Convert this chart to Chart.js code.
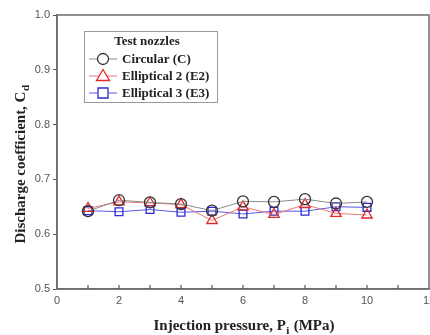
<!DOCTYPE html>
<html><head><meta charset="utf-8">
<script src="https://cdn.jsdelivr.net/npm/chart.js@4"></script>
<style>html,body{margin:0;padding:0;background:#fff}#w{width:430px;height:335px}</style>
</head><body><div id="w"><canvas id="c" width="430" height="335"></canvas></div>
<script>
const pressures = [1,2,3,4,5,6,7,8,9,10];
const circular  = [0.642,0.662,0.658,0.655,0.643,0.660,0.659,0.664,0.656,0.659];
const ellip2    = [0.647,0.659,0.657,0.654,0.625,0.650,0.636,0.654,0.638,0.635];
const ellip3    = [0.643,0.641,0.645,0.640,0.642,0.637,0.642,0.642,0.650,0.649];
const seriesNames = ['Circular (C)','Elliptical 2 (E2)','Elliptical 3 (E3)'];
const legendTitle = 'Test nozzles';
const xTitle = ['Injection pressure, P','i',' (MPa)'];
const yTitle = ['Discharge coefficient, C','d',''];

const toPts = arr => pressures.map((x,i)=>({x, y: arr[i]}));
const serif = '"Liberation Serif", "DejaVu Serif", serif';

const frame = {
  id:'frame',
  afterDraw(chart){
    const {ctx, chartArea:a, scales:{x}} = chart;
    ctx.save();
    ctx.strokeStyle = '#6e6e6e'; ctx.lineWidth = 1.5;
    ctx.strokeRect(a.left, a.top, a.right-a.left, a.bottom-a.top);
    // inward x ticks
    ctx.lineWidth = 1.2; ctx.strokeStyle='#555';
    for (let v=1; v<12; v++){
      const px = x.getPixelForValue(v);
      ctx.beginPath(); ctx.moveTo(px, a.bottom); ctx.lineTo(px, a.bottom-4); ctx.stroke();
    }
    // axis titles with subscripts
    ctx.fillStyle = '#222';
    const drawSub = (parts, size) => {
      ctx.font = 'bold '+size+'px '+serif;
      const w0 = ctx.measureText(parts[0]).width;
      ctx.font = 'bold '+Math.round(size*0.7)+'px '+serif;
      const w1 = ctx.measureText(parts[1]).width;
      ctx.font = 'bold '+size+'px '+serif;
      const w2 = ctx.measureText(parts[2]).width;
      const total = w0+w1+w2+1;
      let cx = -total/2;
      ctx.textBaseline='alphabetic'; ctx.textAlign='left';
      ctx.fillText(parts[0], cx, 0); cx += w0+0.5;
      ctx.font = 'bold '+Math.round(size*0.7)+'px '+serif;
      ctx.fillText(parts[1], cx, 4); cx += w1+0.5;
      ctx.font = 'bold '+size+'px '+serif;
      ctx.fillText(parts[2], cx, 0);
    };
    ctx.save();
    ctx.translate(244, 330);
    drawSub(xTitle, 15);
    ctx.restore();
    ctx.save();
    ctx.translate(25, (a.top+a.bottom)/2 + 12);
    ctx.rotate(-Math.PI/2);
    drawSub(yTitle, 15);
    ctx.restore();
    // legend
    const lx=84, ly=31, lw=133, lh=71;
    ctx.fillStyle='#fff'; ctx.fillRect(lx,ly,lw,lh);
    ctx.strokeStyle='#999'; ctx.lineWidth=1; ctx.strokeRect(lx+0.5,ly+0.5,lw,lh);
    ctx.fillStyle='#222'; ctx.font='bold 13px '+serif; ctx.textAlign='center'; ctx.textBaseline='middle';
    ctx.fillText(legendTitle, lx+63, ly+11);
    chart.data.datasets.forEach((ds,i)=>{
      const yy = ly+28+i*17;
      ctx.strokeStyle = ds.borderColor; ctx.lineWidth=1;
      ctx.beginPath(); ctx.moveTo(lx+5,yy); ctx.lineTo(lx+33,yy); ctx.stroke();
      ctx.strokeStyle = ds.pointBorderColor; ctx.lineWidth=1.3;
      const cx=lx+19, r=5.5;
      ctx.fillStyle='#fff';
      ctx.beginPath();
      if (ds.pointStyle==='circle'){ ctx.arc(cx,yy,r,0,Math.PI*2); }
      else if (ds.pointStyle==='triangle'){ ctx.moveTo(cx,yy-r-1); ctx.lineTo(cx+r+1,yy+r-1); ctx.lineTo(cx-r-1,yy+r-1); ctx.closePath(); }
      else { ctx.rect(cx-r+0.5,yy-r+0.5,2*r-1,2*r-1); }
      ctx.fill(); ctx.stroke();
      ctx.fillStyle='#222'; ctx.font='bold 13px '+serif; ctx.textAlign='left';
      ctx.fillText(seriesNames[i], lx+38, yy+1);
    });
    ctx.restore();
  }
};

new Chart(document.getElementById('c'), {
  type:'line',
  data:{ datasets:[
    {label:seriesNames[0], data:toPts(circular), borderColor:'#8a8a8a', pointBorderColor:'#333', pointStyle:'circle', pointRadius:5.5, backgroundColor:'rgba(0,0,0,0)', pointBackgroundColor:'rgba(0,0,0,0)', borderWidth:1, pointBorderWidth:1.3, tension:0},
    {label:seriesNames[1], data:toPts(ellip2), borderColor:'#ee7777', pointBorderColor:'#e0282a', pointStyle:'triangle', pointRadius:6, backgroundColor:'rgba(0,0,0,0)', pointBackgroundColor:'rgba(0,0,0,0)', borderWidth:1, pointBorderWidth:1.3, tension:0},
    {label:seriesNames[2], data:toPts(ellip3), borderColor:'#5a5ae0', pointBorderColor:'#2a2ad8', pointStyle:'rect', pointRadius:5.5, backgroundColor:'rgba(0,0,0,0)', pointBackgroundColor:'rgba(0,0,0,0)', borderWidth:1, pointBorderWidth:1.3, tension:0}
  ]},
  options:{
    responsive:false, animation:false, devicePixelRatio:1,
    layout:{autoPadding:false, padding:{left:0,right:1,top:15,bottom:0}},
    plugins:{legend:{display:false}, tooltip:{enabled:false}},
    scales:{
      x:{type:'linear', min:0, max:12,
        ticks:{stepSize:1, autoSkip:false, maxRotation:0, color:'#555', font:{family:'"Liberation Sans", Arial, sans-serif', size:11}, padding:5,
          callback:v=> (v%2===0 ? String(v) : '')},
        grid:{display:true, drawOnChartArea:false, drawTicks:false},
        border:{display:true, color:'#6e6e6e', width:1.5},
        afterFit(s){ s.height=46; s.paddingLeft=0; s.paddingRight=0; }
      },
      y:{min:0.5, max:1.0,
        ticks:{stepSize:0.1, color:'#555', font:{family:'"Liberation Sans", Arial, sans-serif', size:11}, padding:3,
          callback:v=>v.toFixed(1)},
        grid:{display:true, drawOnChartArea:false, drawTicks:true, tickLength:4, color:'#555'},
        border:{display:true, color:'#6e6e6e', width:1.5},
        afterFit(s){ s.width=57; s.paddingTop=0; s.paddingBottom=0; }
      }
    }
  },
  plugins:[frame]
});
</script></body></html>
